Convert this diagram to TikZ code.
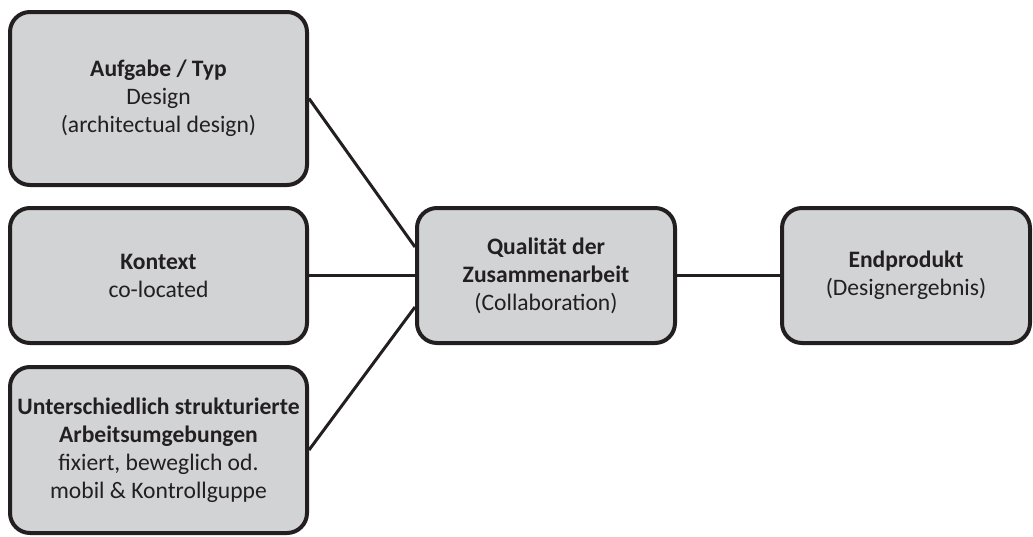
\documentclass[tikz,border=0pt]{standalone}
\usepackage{fontspec}
\setmainfont{Carlito}
\usepackage{tikz}
\usetikzlibrary{calc}
\usepackage{xcolor}
\definecolor{boxgray}{RGB}{209,211,212}
\definecolor{inkblack}{RGB}{35,31,32}

\begin{document}
\begin{tikzpicture}[x=0.5pt,y=-0.5pt,
    factor/.style={draw=inkblack, fill=boxgray, line width=2pt, rounded corners=10pt,
        inner sep=0pt, align=center, text=inkblack, font=\fontsize{11.8}{14}\selectfont},
    link/.style={draw=inkblack, line width=1.5pt}]
    \useasboundingbox (0,0) rectangle (1033,536);

    % --- Left column: influencing factors ---
    \node[factor, minimum width=148.5pt, minimum height=86.5pt] (aufgabe) at (158.5,98.5)
        {\textbf{Aufgabe / Typ}\\Design\\(architectual design)};
    \node[factor, minimum width=148.5pt, minimum height=67.5pt] (kontext) at (158.5,275.5)
        {\textbf{Kontext}\\co-located};
    \node[factor, minimum width=148.5pt, minimum height=83pt] (umgebung) at (158.5,450)
        {\textbf{Unterschiedlich strukturierte}\\\textbf{Arbeitsumgebungen}\\fixiert, beweglich od.\\mobil \& Kontrollguppe};

    % --- Middle and right ---
    \node[factor, minimum width=129pt, minimum height=67.5pt] (qualitaet) at (546,275.5)
        {\textbf{Qualität der}\\\textbf{Zusammenarbeit}\\(Collaboration)};
    \node[factor, minimum width=124pt, minimum height=67.5pt] (endprodukt) at (906,275.5)
        {\textbf{Endprodukt}\\(Designergebnis)};

    % Connectors
    \draw[link] (aufgabe.east) -- ($(qualitaet.west)+(0,-28.5)$);
    \draw[link] (kontext.east) -- (qualitaet.west);
    \draw[link] (umgebung.east) -- ($(qualitaet.west)+(0,31.5)$);
    \draw[link] (qualitaet.east) -- (endprodukt.west);
\end{tikzpicture}
\end{document}
